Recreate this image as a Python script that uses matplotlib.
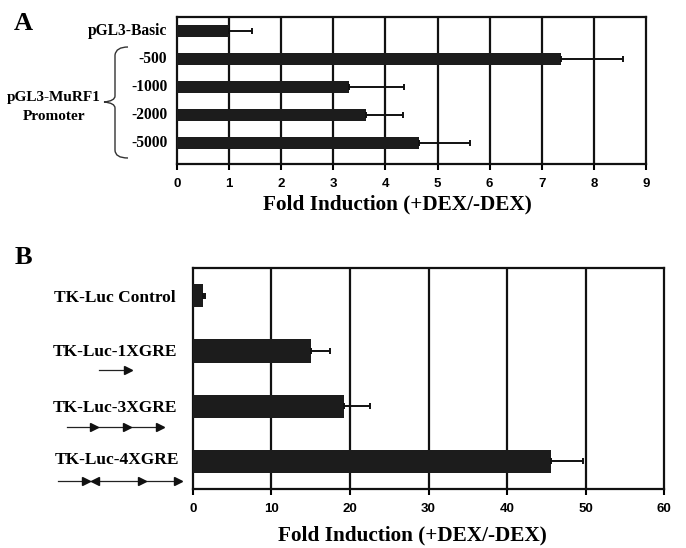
import matplotlib
matplotlib.use("Agg")
import matplotlib.pyplot as plt
from matplotlib.path import Path
from matplotlib.patches import PathPatch
from matplotlib.lines import Line2D

# ---- data ----
a_labels = ["pGL3-Basic", "-500", "-1000", "-2000", "-5000"]
a_values = [1.0, 7.36, 3.30, 3.62, 4.64]
a_errors = [0.43, 1.19, 1.06, 0.72, 0.98]
a_ticks = list(range(0, 10))

b_labels = ["TK-Luc Control", "TK-Luc-1XGRE", "TK-Luc-3XGRE", "TK-Luc-4XGRE"]
b_values = [1.27, 15.1, 19.2, 45.6]
b_errors = [0.25, 2.4, 3.3, 4.1]
b_ticks = list(range(0, 61, 10))

xlabel = "Fold Induction (+DEX/-DEX)"

W, H = 686, 548
fig = plt.figure(figsize=(W / 100, H / 100), dpi=100)

SERIF = "Liberation Serif"
SANS = "Liberation Sans"
BAR = "#1c1c1c"


def fx(px):
    return px / W


def fy(py):
    return 1 - py / H


def style_axes(ax, ticks, xmax):
    ax.set_xlim(0, xmax)
    ax.set_xticks(ticks)
    ax.set_xticklabels([str(t) for t in ticks], fontfamily=SANS,
                       fontweight="bold", fontsize=9.5)
    ax.tick_params(axis="x", direction="out", length=4, width=1.5, pad=6)
    ax.set_yticks([])
    for s in ax.spines.values():
        s.set_linewidth(1.6)
        s.set_color("#111111")
    for t in ticks[1:-1]:
        ax.axvline(t, color="#111111", lw=1.6, zorder=1)
    ax.set_xlabel(xlabel, fontfamily=SERIF, fontweight="bold", fontsize=15.3,
                  labelpad=3)


# ---- Panel A ----
axA = fig.add_axes([fx(177), fy(164), fx(646 - 177), (164 - 17) / H])
ya = list(range(len(a_values)))
axA.barh(ya, a_values, height=0.46, color=BAR, zorder=3)
axA.errorbar(a_values, ya, xerr=[[0] * len(a_errors), a_errors], fmt="none",
             ecolor="#111111", elinewidth=1.4, capsize=2, capthick=1.4, zorder=4)
axA.set_ylim(4.75, -0.5)
style_axes(axA, a_ticks, 9)
axA.xaxis.set_label_coords(0.469, -0.205)

for i, lab in enumerate(a_labels):
    axA.annotate(lab, xy=(0, ya[i]), xycoords=("axes fraction", "data"),
                 xytext=(-7, 0), textcoords="offset points", ha="right",
                 va="center", fontfamily=SERIF, fontweight="bold", fontsize=11.2)

fig.text(fx(54), fy(97), "pGL3-MuRF1", ha="center", va="center",
         fontfamily=SERIF, fontweight="bold", fontsize=11)
fig.text(fx(54), fy(117), "Promoter", ha="center", va="center",
         fontfamily=SERIF, fontweight="bold", fontsize=11)

# curly brace
pts = [(128, 47), (116, 47), (115, 55), (115, 96), (115, 101), (104, 102),
       (115, 103), (115, 108), (115, 150), (115, 158), (128, 158)]
codes = [Path.MOVETO, Path.CURVE3, Path.CURVE3, Path.LINETO, Path.CURVE3,
         Path.CURVE3, Path.CURVE3, Path.CURVE3, Path.LINETO, Path.CURVE3,
         Path.CURVE3]
brace = Path([(fx(x), fy(y)) for x, y in pts], codes)
fig.add_artist(PathPatch(brace, transform=fig.transFigure, fill=False,
                         lw=1.0, color="#333333"))

fig.text(fx(23), fy(24), "A", ha="center", va="center", fontfamily=SERIF,
         fontweight="bold", fontsize=19)

# ---- Panel B ----
axB = fig.add_axes([fx(192.7), fy(489), fx(664.3 - 192.7), (489 - 268.3) / H])
yb = list(range(len(b_values)))
axB.barh(yb, b_values, height=0.42, color=BAR, zorder=3)
axB.errorbar(b_values, yb, xerr=[[0] * len(b_errors), b_errors], fmt="none",
             ecolor="#111111", elinewidth=1.4, capsize=2, capthick=1.4, zorder=4)
axB.set_ylim(3.5, -0.5)
style_axes(axB, b_ticks, 60)
axB.xaxis.set_label_coords(0.465, -0.165)

b_label_y = [298, 352, 408, 460]
b_label_x = [115, 115, 115, 117]
for lab, x, y in zip(b_labels, b_label_x, b_label_y):
    fig.text(fx(x), fy(y), lab, ha="center", va="center", fontfamily=SERIF,
             fontweight="bold", fontsize=12.5)

fig.text(fx(23), fy(258), "B", ha="center", va="center", fontfamily=SERIF,
         fontweight="bold", fontsize=19)


def arrow_row(y, x0, x1, heads):
    fig.add_artist(Line2D([fx(x0), fx(x1)], [fy(y), fy(y)],
                          transform=fig.transFigure, color="#222222", lw=0.9))
    for hx, d in heads:
        off = -3 if d == ">" else 3
        fig.add_artist(Line2D([fx(hx + off)], [fy(y)], transform=fig.transFigure,
                              marker=d, markersize=5.5, color="#111111", lw=0))


arrow_row(370, 99, 131, [(131, ">")])
arrow_row(427, 67, 163, [(97, ">"), (130, ">"), (163, ">")])
arrow_row(481, 58, 181, [(89, ">"), (92, "<"), (145, ">"), (181, ">")])

fig.savefig("out.png", dpi=100)
